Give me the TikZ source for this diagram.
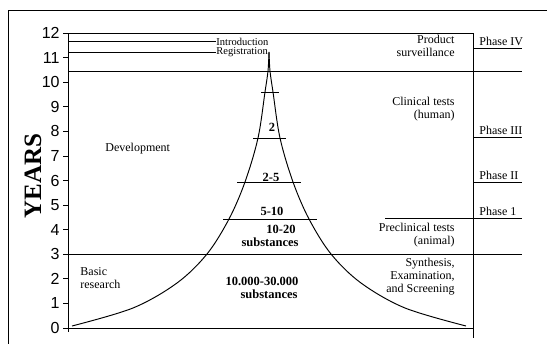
\documentclass[tikz,border=0pt]{standalone}
\usepackage{fontspec}
\setmainfont{Liberation Serif}
\newfontfamily\axisfont{Liberation Sans}
\begin{document}
\begin{tikzpicture}[x=1pt,y=-1pt,line width=0.85pt,
  lbl/.style={font=\fontsize{12}{13}\selectfont,inner sep=0pt,align=right},
  llbl/.style={font=\fontsize{12}{13}\selectfont,inner sep=0pt,align=left},
  small/.style={font=\fontsize{10.5}{11}\selectfont,inner sep=0pt},
  num/.style={font=\bfseries\fontsize{12.5}{13}\selectfont,inner sep=0pt,align=center},
  ticklbl/.style={font=\axisfont\fontsize{16}{16}\selectfont,inner sep=0pt,anchor=east},
  phase/.style={font=\fontsize{12}{13}\selectfont,inner sep=0pt,anchor=west}]
\useasboundingbox (0,0) rectangle (547,344);
% outer frame
\draw (8,344) -- (8,10) -- (547,10);
% axis box
\draw (68,332) -- (68,33) -- (473,33) -- (473,338);
\draw (66,328) -- (473,328);
% ticks
\foreach \n in {0,...,12}{
  \pgfmathsetmacro\yy{328-24.58*\n}
  \draw (63,\yy) -- (68,\yy);
  \node[ticklbl] (t\n) at (60,\yy) {\n};
}
\node[font=\bfseries\fontsize{25}{25}\selectfont,rotate=90,inner sep=0pt] (years) at (33,176) {YEARS};
% horizontal lines
\draw (68,71.5) -- (522,71.5);
\draw (68,254) -- (522,254);
\draw (385,218.5) -- (522,218.5);
\draw (473,48) -- (522,48);
\draw (473,137) -- (522,137);
\draw (473,182) -- (522,182);
% introduction / registration
\node[small,anchor=west] (intro) at (216,41.5) {Introduction};
\node[small,anchor=west] (reg) at (216,52) {Registration};
\coordinate (introL) at (68,41.5);
\coordinate (regL) at (68,52);
\draw (introL) -- (intro.west);
\draw (regL) -- (reg.west);
% pyramid curve
\draw[line width=0.95pt] plot[smooth,tension=0.55] coordinates {(72,326) (133,308) (177,283) (207,254) (229,219) (245,182) (258,138) (265,92) (268,71) (269,52)};
\draw[line width=0.95pt] plot[smooth,tension=0.55] coordinates {(466,326) (405,308) (361,283) (331,254) (309,219) (293,182) (280,138) (273,92) (270,71) (269,52)};
% pyramid cross lines
\draw (223,219) -- (317,219);
\draw (237,182) -- (301,182);
\draw (253,138) -- (286,138);
\draw (261,92) -- (279,92);
% pyramid labels
\node[num] (l2) at (272,127) {2};
\node[num] (l25) at (271,177) {2-5};
\node[num] (l510) at (272,211) {5-10};
\node[num] (l1020) at (281,229) {10-20};
\node[num] (ls1) at (270,242) {substances};
\node[num] (l10000) at (262,281) {10.000-30.000};
\node[num] (ls2) at (269,294) {substances};
% left labels
\node[lbl,anchor=west] (dev) at (105,149) {Development};
\node[llbl,anchor=north west] (basic) at (80,267) {Basic\\research};
% right labels
\node[lbl,anchor=north east] (prod) at (455,35) {Product\\surveillance};
\node[lbl,anchor=north east] (clin) at (455,97) {Clinical tests\\(human)};
\node[lbl,anchor=north east] (precl) at (455,223) {Preclinical tests\\(animal)};
\node[lbl,anchor=north east] (synth) at (455,258) {Synthesis,\\Examination,\\and Screening};
% phases
\node[phase] (p4) at (479,41) {Phase IV};
\node[phase] (p3) at (479,130) {Phase III};
\node[phase] (p2) at (479,175) {Phase II};
\node[phase] (p1) at (479,211) {Phase 1};
\end{tikzpicture}
\end{document}
